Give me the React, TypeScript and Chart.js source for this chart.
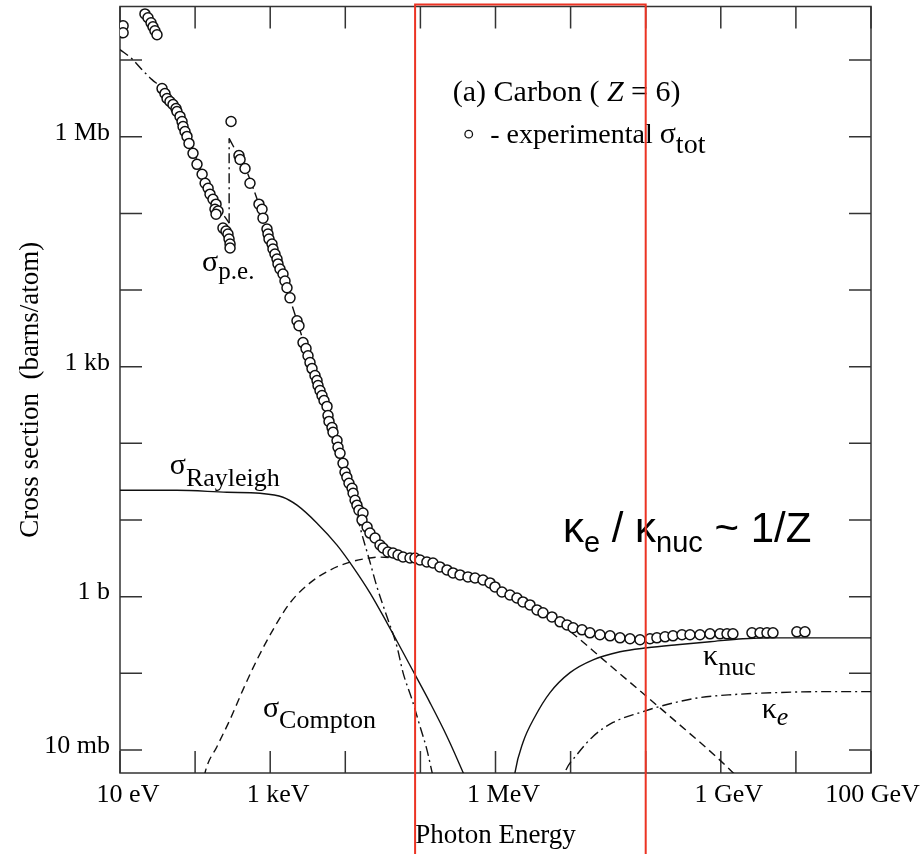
import React, { useEffect, useRef } from 'react';
import { Chart, registerables } from 'chart.js';

Chart.register(...registerables);

const SERIF = '"Liberation Serif", "Times New Roman", serif';
const SANS = '"Liberation Sans", Arial, sans-serif';

// Axes (photon energy in eV, cross section in barns/atom)
const X_MIN = 10;
const X_MAX = 1e11;
const Y_MIN = 0.005;
const Y_MAX = 5e7;
const X_TICKS = [10, 100, 1e3, 1e4, 1e5, 1e6, 1e7, 1e8, 1e9, 1e10, 1e11];
const X_TICK_LABELS: Record<number, string> = { 1: '10 eV', 3: '1 keV', 6: '1 MeV', 9: '1 GeV', 11: '100 GeV  ' };
const Y_TICKS = [0.01, 0.1, 1, 10, 100, 1e3, 1e4, 1e5, 1e6, 1e7];
const Y_TICK_LABELS: Record<number, string> = { [-2]: '10 mb', 0: '1 b', 3: '1 kb', 6: '1 Mb' };

// Experimental total cross section [E (eV), sigma (b)]
const EXPERIMENTAL: [number, number][] = [
  [11, 2.8e7], [11, 2.27e7],
  [21.5, 4.0e7], [23.6, 3.56e7], [25.9, 3.06e7], [27.5, 2.72e7], [29.2, 2.41e7], [31.1, 2.14e7],
  [36.3, 4.25e6], [39.7, 3.66e6], [42.3, 3.15e6], [46.3, 2.88e6], [50.8, 2.63e6], [55.7, 2.33e6], [57.4, 2.13e6],
  [63.0, 1.84e6], [67.0, 1.58e6], [69.1, 1.36e6], [73.4, 1.17e6], [78.0, 1.01e6], [83.0, 8.18e5], [93.8, 6.07e5],
  [106, 4.36e5], [124, 3.24e5], [136, 2.47e5], [149, 2.13e5], [158, 1.78e5], [173, 1.53e5], [190, 1.32e5],
  [184, 1.13e5], [202, 1.07e5], [190, 9.77e4], [235, 6.43e4], [258, 5.87e4], [274, 5.37e4], [283, 4.62e4],
  [292, 3.98e4], [292, 3.53e4],
  [301, 1.58e6], [384, 5.69e5], [397, 5.05e5], [462, 3.85e5], [538, 2.47e5], [709, 1.32e5], [778, 1.13e5],
  [802, 8.67e4], [906, 6.24e4], [935, 5.37e4], [964, 4.62e4], [1057, 3.98e4], [1089, 3.43e4], [1158, 2.95e4],
  [1232, 2.54e4], [1270, 2.19e4], [1350, 1.88e4], [1480, 1.62e4], [1574, 1.31e4], [1673, 1.07e4], [1835, 7.9e3],
  [2275, 3.97e3], [2417, 3.42e3],
  [2735, 2.06e3], [2999, 1.72e3], [3188, 1.39e3], [3389, 1.13e3], [3603, 944], [3950, 766], [4201, 659],
  [4332, 568], [4606, 489], [4897, 421], [5206, 362], [5708, 303], [5886, 231], [6069, 193], [6654, 161],
  [6861, 139], [7758, 109], [7999, 88.6], [8504, 74.0], [9324, 54.8], [9913, 41.9],
  [1.05e4, 36.1], [1.12e4, 30.1], [1.23e4, 25.9], [1.27e4, 22.3], [1.35e4, 18.1], [1.43e4, 15.6], [1.52e4, 13.4],
  [1.72e4, 12.3], [1.67e4, 9.96], [1.95e4, 8.07], [2.13e4, 6.75], [2.49e4, 5.81], [2.9e4, 4.71], [3.18e4, 4.31],
  [3.7e4, 3.82], [4.32e4, 3.71], [5.04e4, 3.49], [5.87e4, 3.29], [7.27e4, 3.19], [8.48e4, 3.19], [9.89e4, 3.0],
  [1.22e5, 2.83], [1.47e5, 2.75], [1.82e5, 2.44], [2.26e5, 2.23], [2.72e5, 2.04], [3.37e5, 1.92], [4.3e5, 1.81],
  [5.34e5, 1.75], [6.82e5, 1.65], [8.46e5, 1.51], [9.85e5, 1.34],
  [1.22e6, 1.15], [1.56e6, 1.05], [1.93e6, 0.96], [2.32e6, 0.853], [2.88e6, 0.78], [3.57e6, 0.671],
  [4.29e6, 0.614], [5.65e6, 0.544], [7.23e6, 0.469], [8.96e6, 0.428],
  [1.08e7, 0.392], [1.42e7, 0.369], [1.81e7, 0.337], [2.46e7, 0.318], [3.35e7, 0.308], [4.55e7, 0.29],
  [6.18e7, 0.282], [8.4e7, 0.274],
  [1.14e8, 0.282], [1.41e8, 0.29], [1.81e8, 0.299], [2.31e8, 0.308], [3.04e8, 0.318], [3.89e8, 0.318],
  [5.28e8, 0.318], [7.18e8, 0.327], [9.75e8, 0.327],
  [1.21e9, 0.327], [1.45e9, 0.327], [2.6e9, 0.337], [3.33e9, 0.337], [4.12e9, 0.337], [4.95e9, 0.337],
  [1.03e10, 0.347], [1.32e10, 0.347],
];

// Photoelectric (below K edge, edge jump, above K edge)
const PE_LOW: [number, number][] = [
  [10, 1.37e7], [14.4, 1.04e7], [20.2, 7.28e6], [26.7, 5.56e6], [36.3, 4.25e6], [54, 2.4e6], [85.5, 8.69e5],
  [136, 2.62e5], [202, 1.24e5], [284, 7.46e4],
];
const PE_EDGE: [number, number][] = [[284, 7.46e4], [284, 9.5e5]];
const PE_HIGH: [number, number][] = [
  [284, 9.5e5], [340, 6.84e5], [462, 3.99e5], [628, 1.83e5], [853, 7.46e4], [1158, 3.04e4], [1835, 7.66e3],
  [2904, 1.87e3], [4606, 488], [7295, 119], [1.16e4, 28.4], [1.57e4, 8.06], [2.13e4, 2.83], [2.64e4, 1.34],
  [3.59e4, 0.545], [4.88e4, 0.222], [5.87e4, 0.102], [7.73e4, 0.0454], [9.89e4, 0.0202], [1.22e5, 0.0101],
  [1.43e5, 0.0051], [1.62e5, 0.00306],
];
const RAYLEIGH: [number, number][] = [
  [10, 24.4], [57.4, 24.4], [266, 23.0], [731, 22.3], [1480, 19.8], [2275, 15.6], [4201, 9.09], [7758, 4.7],
  [1.27e4, 2.43], [2.13e4, 1.12], [3.59e4, 0.455], [5.35e4, 0.222], [8.48e4, 0.0959], [1.34e5, 0.0415],
  [2.26e5, 0.015], [3.69e5, 0.0051], [4.57e5, 0.00306],
];
const COMPTON: [number, number][] = [
  [124, 0.00306], [136, 0.0051], [196, 0.0111], [292, 0.0249], [435, 0.0612], [667, 0.15], [1089, 0.369],
  [1835, 0.828], [3389, 1.51], [6256, 2.22], [1.05e4, 2.74], [1.72e4, 3.09], [2.9e4, 3.28], [5.35e4, 3.15],
  [9.89e4, 3.0], [1.82e5, 2.43], [3.37e5, 2.1], [6.22e5, 1.65], [1.15e6, 1.3], [2.12e6, 0.906], [3.92e6, 0.632],
  [7.23e6, 0.442], [8.96e6, 0.38], [3.05e7, 0.137], [8.93e7, 0.056], [2.61e8, 0.0228], [8.89e8, 0.00798],
  [1.8e9, 0.00413],
];
const KAPPA_NUC: [number, number][] = [
  [1.71e6, 0.00306], [1.82e6, 0.0051], [2.32e6, 0.0125], [3.36e6, 0.0273], [5.32e6, 0.056], [9.82e6, 0.102],
  [1.99e7, 0.15], [4.55e7, 0.191], [1.04e8, 0.215], [2.61e8, 0.236], [7.18e8, 0.258], [1.97e9, 0.282],
  [5.6e9, 0.29], [2.59e10, 0.29], [1e11, 0.29],
];
const KAPPA_E: [number, number][] = [
  [7.23e6, 0.00306], [8.41e6, 0.0051], [1.22e7, 0.00874], [1.99e7, 0.015], [3.67e7, 0.0228], [8.4e7, 0.0307],
  [1.92e8, 0.0391], [5.28e8, 0.0482], [1.45e9, 0.0527], [5.6e9, 0.056], [2.59e10, 0.0577], [1e11, 0.0577],
];

// Highlighted energy band [eV]
const BAND: [number, number] = [8.5e4, 1e8];

type Part = { t: string; size: number; dy?: number; italic?: boolean; family?: string };
const ANNOTATIONS: { e: number; s: number; parts: Part[] }[] = [
  { e: 2.7e5, s: 2.9e6, parts: [{ t: '(a) Carbon ( ', size: 30 }, { t: 'Z', size: 30, italic: true }, { t: ' = 6)', size: 30 }] },
  { e: 8.5e5, s: 8.2e5, parts: [{ t: '- experimental ', size: 28 }, { t: 'σ', size: 30 }, { t: 'tot', size: 28, dy: 10 }] },
  { e: 124, s: 1.77e4, parts: [{ t: 'σ', size: 30 }, { t: 'p.e.', size: 25, dy: 8 }] },
  { e: 46, s: 40, parts: [{ t: 'σ', size: 30 }, { t: 'Rayleigh', size: 26, dy: 12 }] },
  { e: 800, s: 0.0268, parts: [{ t: 'σ', size: 30 }, { t: 'Compton', size: 26, dy: 11 }] },
  { e: 5.8e8, s: 0.127, parts: [{ t: 'κ', size: 30 }, { t: 'nuc', size: 26, dy: 10 }] },
  { e: 3.5e9, s: 0.026, parts: [{ t: 'κ', size: 30 }, { t: 'e', size: 26, dy: 7, italic: true }] },
  {
    e: 7.9e6, s: 5.1, parts: [
      { t: 'κ', size: 42, family: SANS }, { t: 'e', size: 29, dy: 10, family: SANS },
      { t: ' / κ', size: 42, family: SANS }, { t: 'nuc', size: 29, dy: 10, family: SANS },
      { t: ' ~ 1/Z', size: 42, family: SANS },
    ],
  },
];
const LEGEND_MARK: [number, number] = [4.4e5, 1.08e6];

const toXY = (arr: [number, number][]) => arr.map(([x, y]) => ({ x, y }));

const curve = (label: string, arr: [number, number][], dash: number[], smooth = true) => ({
  label,
  data: toXY(arr),
  showLine: true,
  borderColor: '#111',
  borderWidth: 1.4,
  borderDash: dash,
  pointRadius: 0,
  pointHoverRadius: 0,
  fill: false,
  cubicInterpolationMode: smooth ? 'monotone' : 'default',
  tension: 0,
});

const framePlugin = {
  id: 'frame',
  beforeDatasetsDraw(chart: any) {
    const { ctx, chartArea: a, scales } = chart;
    ctx.save();
    ctx.strokeStyle = '#333';
    ctx.lineWidth = 1.5;
    ctx.strokeRect(a.left, a.top, a.right - a.left, a.bottom - a.top);
    const L = 22;
    ctx.beginPath();
    for (const v of X_TICKS) {
      const px = scales.x.getPixelForValue(v);
      ctx.moveTo(px, a.bottom); ctx.lineTo(px, a.bottom - L);
      ctx.moveTo(px, a.top); ctx.lineTo(px, a.top + L);
    }
    for (const v of Y_TICKS) {
      const py = scales.y.getPixelForValue(v);
      ctx.moveTo(a.left, py); ctx.lineTo(a.left + L, py);
      ctx.moveTo(a.right, py); ctx.lineTo(a.right - L, py);
    }
    ctx.stroke();
    ctx.restore();
  },
};

const annotationPlugin = {
  id: 'annotations',
  afterDatasetsDraw(chart: any) {
    const { ctx, scales } = chart;
    ctx.save();
    ctx.fillStyle = '#000';
    ctx.textAlign = 'left';
    ctx.textBaseline = 'alphabetic';
    for (const a of ANNOTATIONS) {
      let cx = scales.x.getPixelForValue(a.e);
      const y = scales.y.getPixelForValue(a.s);
      for (const p of a.parts) {
        ctx.font = `${p.italic ? 'italic ' : ''}${p.size}px ${p.family ?? SERIF}`;
        ctx.fillText(p.t, cx, y + (p.dy ?? 0));
        cx += ctx.measureText(p.t).width;
      }
    }
    const mx = scales.x.getPixelForValue(LEGEND_MARK[0]);
    const my = scales.y.getPixelForValue(LEGEND_MARK[1]);
    ctx.beginPath();
    ctx.arc(mx, my, 3.8, 0, Math.PI * 2);
    ctx.strokeStyle = '#111';
    ctx.lineWidth = 1.3;
    ctx.stroke();
    ctx.restore();
  },
  afterDraw(chart: any) {
    const { ctx, scales, chartArea: a } = chart;
    const x0 = scales.x.getPixelForValue(BAND[0]);
    const x1 = scales.x.getPixelForValue(BAND[1]);
    ctx.save();
    ctx.strokeStyle = '#ec3323';
    ctx.lineWidth = 2;
    ctx.beginPath();
    ctx.moveTo(x0, chart.height + 5);
    ctx.lineTo(x0, a.top - 2);
    ctx.lineTo(x1, a.top - 2);
    ctx.lineTo(x1, chart.height + 5);
    ctx.stroke();
    ctx.restore();
  },
};

export default function App() {
  const ref = useRef<HTMLCanvasElement>(null);
  useEffect(() => {
    const canvas = ref.current;
    if (!canvas) return;
    const chart = new Chart(canvas, {
      type: 'scatter',
      data: {
        datasets: [
          {
            label: 'experimental σtot',
            data: toXY(EXPERIMENTAL),
            showLine: false,
            pointRadius: 5,
            pointBorderWidth: 1.5,
            pointBorderColor: '#111',
            pointBackgroundColor: '#fff',
            pointStyle: 'circle',
          } as any,
          curve('σp.e.', PE_LOW, [10, 4, 2, 4]),
          curve('σp.e. edge', PE_EDGE, [10, 4, 2, 4], false),
          curve('σp.e.', PE_HIGH, [10, 4, 2, 4]),
          curve('σRayleigh', RAYLEIGH, []),
          curve('σCompton', COMPTON, [8, 5]),
          curve('κnuc', KAPPA_NUC, []),
          curve('κe', KAPPA_E, [10, 4, 2, 4]),
        ] as any,
      },
      options: {
        responsive: false,
        animation: false,
        devicePixelRatio: 1,
        events: [],
        layout: { padding: { top: 5, right: 51, left: 0, bottom: 0 } },
        plugins: {
          legend: { display: false },
          tooltip: { enabled: false },
          title: { display: false },
        },
        scales: {
          x: {
            type: 'logarithmic',
            position: 'bottom',
            min: X_MIN,
            max: X_MAX,
            bounds: 'data',
            grid: { display: false, drawTicks: false },
            border: { display: false },
            ticks: {
              autoSkip: false,
              maxRotation: 0,
              minRotation: 0,
              padding: 7,
              labelOffset: 8,
              color: '#000',
              font: { family: SERIF, size: 26 },
              callback: (v: any) => X_TICK_LABELS[Math.round(Math.log10(Number(v)))] ?? '',
            },
            title: {
              display: true,
              text: 'Photon Energy',
              color: '#000',
              font: { family: SERIF, size: 27 },
              padding: { top: 0, bottom: 2 },
            },
            afterBuildTicks: (s: any) => { s.ticks = X_TICKS.map((value) => ({ value })); },
            afterFit: (s: any) => {
              s.height = 81;
              s.paddingLeft = 0; s.paddingRight = 0; s.paddingTop = 0; s.paddingBottom = 0;
            },
          },
          y: {
            type: 'logarithmic',
            position: 'left',
            min: Y_MIN,
            max: Y_MAX,
            bounds: 'data',
            grid: { display: false, drawTicks: false },
            border: { display: false },
            ticks: {
              autoSkip: false,
              padding: 10,
              labelOffset: -4,
              color: '#000',
              font: { family: SERIF, size: 26 },
              callback: (v: any) => Y_TICK_LABELS[Math.round(Math.log10(Number(v)))] ?? '',
            },
            title: {
              display: true,
              text: 'Cross section  (barns/atom)',
              color: '#000',
              font: { family: SERIF, size: 27 },
              padding: { top: 15, bottom: 0 },
            },
            afterBuildTicks: (s: any) => { s.ticks = Y_TICKS.map((value) => ({ value })); },
            afterFit: (s: any) => {
              s.width = 120;
              s.paddingLeft = 0; s.paddingRight = 0; s.paddingTop = 0; s.paddingBottom = 0;
            },
          },
        },
      } as any,
      plugins: [framePlugin, annotationPlugin],
    });
    return () => chart.destroy();
  }, []);

  return (
    <div style={{ position: 'absolute', left: 0, top: 0, width: 922, height: 854, background: '#fff' }}>
      <canvas ref={ref} width={922} height={854} style={{ display: 'block' }} />
    </div>
  );
}
